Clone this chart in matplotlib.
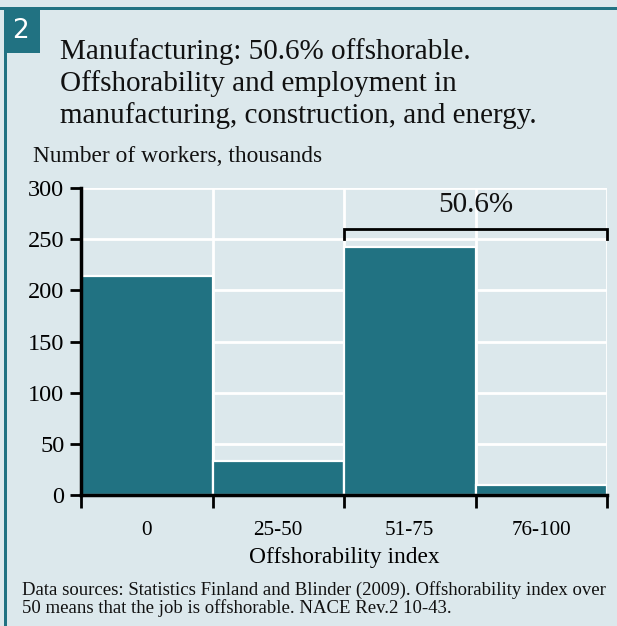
import matplotlib
matplotlib.use("Agg")
import matplotlib.pyplot as plt
from matplotlib.patches import Rectangle

# Data: employment by offshorability index band (thousands of workers)
categories = ["0", "25-50", "51-75", "76-100"]
workers = [214, 33, 242, 10]
offshorable_share = "50.6%"
y_ticks = [0, 50, 100, 150, 200, 250, 300]

W, H = 617, 626
BG = "#dce8ec"
TEAL = "#217282"
FONT = "Liberation Serif"

plt.rcParams["font.family"] = [FONT, "DejaVu Serif"]

fig = plt.figure(figsize=(W / 100, H / 100), dpi=100)
fig.patch.set_facecolor(BG)


def fx(x):
    return x / W


def fy(y):
    return 1 - y / H


# Panel frame: teal top rule, left rule and numbered tab
fig.patches.append(Rectangle((0, fy(10)), 1, 3 / H, transform=fig.transFigure,
                             facecolor=TEAL, edgecolor="none", zorder=0))
fig.patches.append(Rectangle((fx(4), 0), 3 / W, fy(7), transform=fig.transFigure,
                             facecolor=TEAL, edgecolor="none", zorder=0))
fig.patches.append(Rectangle((fx(4), fy(53)), 36 / W, 46 / H, transform=fig.transFigure,
                             facecolor=TEAL, edgecolor="none", zorder=0))
fig.text(fx(21), fy(31), "2", color="white", fontsize=19, ha="center", va="center",
         family=["DejaVu Sans"])

title_lines = ["Manufacturing: 50.6% offshorable.",
               "Offshorability and employment in",
               "manufacturing, construction, and energy."]
for i, line in enumerate(title_lines):
    fig.text(fx(60), fy(52 + 32 * i), line, fontsize=21, ha="left", va="center",
             color="#111111")

fig.text(fx(33), fy(157), "Number of workers, thousands", fontsize=16.8,
         ha="left", va="center", color="#111111")

# Plot area
left, right, top, bottom = 81, 607, 188, 495
ax = fig.add_axes([fx(left), fy(bottom), (right - left) / W, (bottom - top) / H])
ax.set_facecolor(BG)

positions = list(range(len(categories)))
ax.bar(positions, workers, width=1.0, align="edge", color=TEAL,
       edgecolor="white", linewidth=1.6, zorder=2)

ax.set_xlim(0, len(categories))
ax.set_ylim(0, 300)
ax.set_yticks(y_ticks)
ax.set_yticklabels([str(v) for v in y_ticks], fontsize=17.5)
ax.set_xticks(range(len(categories) + 1))
ax.set_xticklabels([])
ax.set_xticks([p + 0.5 for p in positions], minor=True)
ax.set_xticklabels(categories, minor=True, fontsize=15.2)
ax.tick_params(axis="x", which="minor", length=0, pad=19)
ax.tick_params(axis="x", which="major", length=9, width=2, direction="out", color="black")
ax.tick_params(axis="y", length=8, width=2, direction="out", color="black", pad=4)
ax.set_xlabel("Offshorability index", fontsize=16.8, labelpad=5)

ax.grid(True, which="major", color="white", linewidth=2, zorder=0)
ax.set_axisbelow(True)
for side in ["top", "right"]:
    ax.spines[side].set_visible(False)
for side in ["left", "bottom"]:
    ax.spines[side].set_linewidth(2.5)
    ax.spines[side].set_zorder(3)

# Bracket over the offshorable bands
y_br, y_drop = 260, 250
ax.plot([2, 2, 4, 4], [y_drop, y_br, y_br, y_drop], color="black", linewidth=2,
        clip_on=False, zorder=4, solid_joinstyle="miter")
ax.text(3, 283, offshorable_share, ha="center", va="center", fontsize=21,
        color="#111111")

notes = ["Data sources: Statistics Finland and Blinder (2009). Offshorability index over",
         "50 means that the job is offshorable. NACE Rev.2 10-43."]
for i, line in enumerate(notes):
    fig.text(fx(22), fy(590 + 18 * i), line, fontsize=13.5, ha="left", va="center",
             color="#111111")

fig.savefig("out.png", dpi=100, facecolor=BG)
